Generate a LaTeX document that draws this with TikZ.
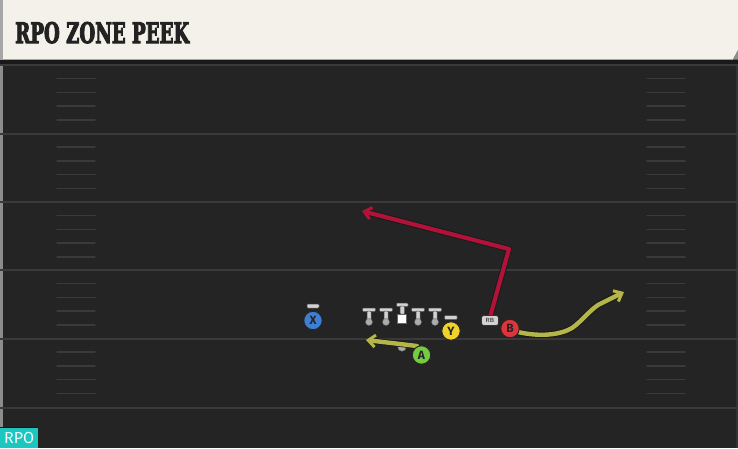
\documentclass[tikz,border=0pt]{standalone}
\usepackage{fontspec}
\setmainfont{DejaVu Sans}
\newfontfamily\titlefont[FakeBold=4]{DejaVu Serif Condensed Bold}
\newfontfamily\labelfont{Fira Sans}
\usetikzlibrary{arrows.meta,calc}
\definecolor{fieldbg}{HTML}{242424}
\definecolor{yardline}{HTML}{3A3A3A}
\definecolor{hashc}{HTML}{3A3A3A}
\definecolor{headerbg}{HTML}{F4F1EA}
\definecolor{titlec}{HTML}{222222}
\definecolor{routered}{HTML}{B0123A}
\definecolor{routeyel}{HTML}{B5B548}
\definecolor{pred}{HTML}{E0343C}
\definecolor{pyel}{HTML}{F2D22A}
\definecolor{pgreen}{HTML}{72CC3E}
\definecolor{pblue}{HTML}{3D7FD6}
\definecolor{lineman}{HTML}{D2D2D2}
\definecolor{teal}{HTML}{1DC6BE}
\tikzset{
  player/.style={circle, draw=black!85, line width=1pt, minimum size=18.5pt, inner sep=0pt,
    font=\labelfont\bfseries\fontsize{12}{12}\selectfont, text=black!85},
  yline/.style={draw=yardline, line width=2pt},
  hashm/.style={draw=hashc, line width=1.5pt, line cap=round},
  tbar/.style={fill=lineman, draw=black!70, line width=0.5pt, rounded corners=0.8pt},
  dotm/.style={circle, fill=gray!65, draw=black!60, line width=0.4pt, minimum size=7pt, inner sep=0pt},
  routeR/.style={draw=routered, line width=4.2pt, line join=round},
  routeY/.style={draw=routeyel, line width=4.4pt, line join=round, line cap=round},
  rshadow/.style={draw=black!90, line width=6pt, line join=round},
  tip/.style={-{Straight Barb[length=7pt,width=12pt,line width=3pt]}},
}
\begin{document}
\begin{tikzpicture}[x=1pt,y=-1pt]
\useasboundingbox (0,0) rectangle (738,448);
% background
\fill[fieldbg] (0,0) rectangle (738,448);
\fill[black!45] (0,60) rectangle (2.5,428);
\fill[black!80!white] (735.5,60) rectangle (738,448);
% yard lines
\foreach \y in {65,133.5,202,270,338.5,407.5} {
  \path[yline] (0,\y) -- (738,\y);
}
% hash marks
\foreach \b in {65,133.5,202,270,338.5} {
  \foreach \o in {13.7,27.4,41.2,54.9} {
    \path[hashm] (57,\b+\o) -- (95,\b+\o);
    \path[hashm] (647,\b+\o) -- (685,\b+\o);
  }
}
% header
\fill[black!90] (0,58) rectangle (738,64);
\fill[headerbg] (0,0) -- (738,0) -- (738,50) -- (733,59.5) -- (0,59.5) -- cycle;
\fill[black!35] (0,0) rectangle (3,59.5);
\fill[black!45] (738,50) -- (733,59.5) -- (738,59.5) -- cycle;
\node[anchor=base west, inner sep=0pt, text=titlec] (title) at (15,43)
  {\resizebox{174pt}{21pt}{\titlefont RPO ZONE PEEK}};
% RPO tag
\fill[red!30!black] (0,426.5) rectangle (38,428);
\node[fill=teal, anchor=north west, minimum width=38pt, minimum height=20pt, inner sep=0pt,
  text=white!92!teal, font=\labelfont\fontsize{16}{16}\selectfont] (tag) at (0,428) {RPO};
% coordinates
\coordinate (rbtop) at (490,317);
\coordinate (rcorner) at (509,249);
\coordinate (rtip) at (362,211);
\coordinate (atip) at (366,340);
\coordinate (ytip) at (624,292);
% red route
\draw[rshadow] (rbtop) -- (rcorner) -- ($(rtip)!5pt!(rcorner)$);
\draw[routeR, tip] (rbtop) -- (rcorner) -- (rtip);
% players / line
\foreach \x/\n in {369/l1,386/l2,418/l4,435/l5} {
  \fill[tbar] (\x-6.5,308) rectangle (\x+6.5,311.5);
  \fill[tbar] (\x-2,311) rectangle (\x+2,320);
  \node[dotm] (\n) at (\x,322) {};
}
\fill[tbar] (396.5,303) rectangle (408,306.5);
\fill[tbar] (400,306) rectangle (404.5,314);
\node[draw=black!60, fill=white, minimum size=9pt, inner sep=0pt, line width=0.4pt] (center) at (402,318.5) {};
% QB dot
\node[dotm, minimum size=8.5pt] (qb) at (402,347) {};
% A route
\draw[draw=black!90, line width=6pt, line cap=round] (417,346) -- (372,340.5);
\draw[routeY, tip] (417,346) -- (atip);
% B route
\draw[draw=black!90, line width=6.2pt, line cap=round, line join=round]
  (518,332) .. controls (540,337) and (560,335) .. (572,328)
  .. controls (582,321) and (588,312) .. (598,305) -- (618,294.5);
\draw[routeY, tip]
  (518,332) .. controls (540,337) and (560,335) .. (572,328)
  .. controls (582,321) and (588,312) .. (598,305) -- (ytip);
% stance bars
\fill[tbar] (307,304) rectangle (319,308);
\fill[tbar] (444.5,315.5) rectangle (457,319.5);
% skill players
\node[player, fill=pblue] (X) at (313,320.5) {X};
\node[player, fill=pyel] (Y) at (451,331) {Y};
\node[player, fill=pgreen] (A) at (421.5,355) {A};
\node[player, fill=pred] (B) at (510,328.5) {B};
% RB
\node[fill=lineman, draw=black!80, line width=0.7pt, rounded corners=2.5pt, minimum width=17pt,
  minimum height=10pt, inner sep=0pt, font=\sffamily\bfseries\fontsize{6}{6}\selectfont, text=black!75] (RB) at (490,320.5) {RB};
\end{tikzpicture}
\end{document}
